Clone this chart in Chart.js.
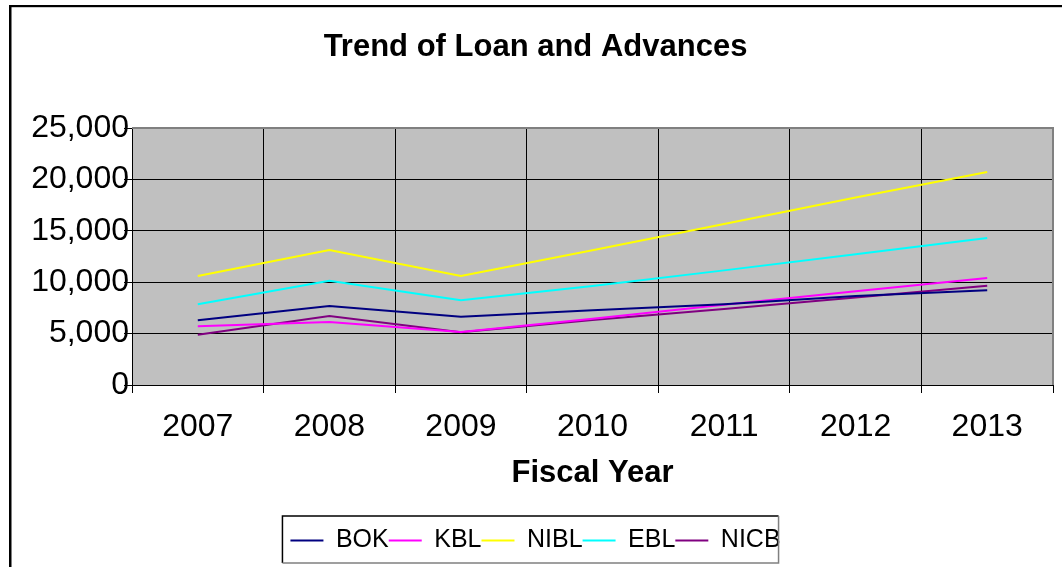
<!DOCTYPE html>
<html><head><meta charset="utf-8">
<script src="https://cdn.jsdelivr.net/npm/chart.js@4.4.1/dist/chart.umd.min.js"></script>
<style>html,body{margin:0;padding:0;background:#fff;}#wrap{width:1062px;height:567px;position:relative;}</style>
</head><body><div id="wrap"><canvas id="c" width="1062" height="567"></canvas></div>
<script>
const years = ['2007','2008','2009','2010','2011','2012','2013'];
const bok  = [6290, 7690, 6640, 7260, 7850, 8660, 9210];
const kbl  = [5710, 6130, 5160, 6450, 7810, 9120, 10410];
const nibl = [10600, 13130, 10600, 13110, 15660, 18240, 20720];
const ebl  = [7850, 10150, 8240, 9630, 11150, 12710, 14300];
const nicb = [4890, 6710, 5140, 6320, 7400, 8510, 9660];
const seriesNames = ['BOK','KBL','NIBL','EBL','NICB'];
const seriesColors = ['#000080','#FF00FF','#FFFF00','#00FFFF','#800080'];
const seriesValues = [bok, kbl, nibl, ebl, nicb];
const yMin = 0, yMax = 25000, yStep = 5000;

const FONT = '"Liberation Sans", Arial, sans-serif';

const decor = {
  id: 'decor',
  beforeDraw(chart) {
    const {ctx, chartArea: a} = chart;
    ctx.save();
    ctx.fillStyle = '#fff';
    ctx.fillRect(0, 0, chart.width, chart.height);
    ctx.fillStyle = '#000';
    ctx.fillRect(9, 5, 2.5, chart.height);
    ctx.fillRect(9, 5, chart.width, 2.2);
    ctx.fillStyle = '#C0C0C0';
    ctx.fillRect(a.left, a.top, a.right - a.left, a.bottom - a.top);
    ctx.restore();
  },
  afterDraw(chart) {
    const {ctx, chartArea: a, legend} = chart;
    ctx.save();
    ctx.strokeStyle = '#808080';
    ctx.lineWidth = 2;
    ctx.beginPath();
    ctx.moveTo(a.left, a.top);
    ctx.lineTo(a.right, a.top);
    ctx.lineTo(a.right, a.bottom);
    ctx.stroke();
    const hb = legend.legendHitBoxes;
    if (hb && hb.length) {
      const l = Math.min(...hb.map(h => h.left)) - 8;
      const r = Math.max(...hb.map(h => h.left + h.width)) - 2;
      const cy = hb[0].top + hb[0].height / 2;
      const t = cy - 24.5, b = cy + 22.5;
      ctx.lineWidth = 1.5;
      ctx.strokeStyle = '#000';
      ctx.beginPath();
      ctx.moveTo(l, b); ctx.lineTo(l, t); ctx.lineTo(r, t);
      ctx.stroke();
      ctx.strokeStyle = '#808080';
      ctx.beginPath();
      ctx.moveTo(r, t); ctx.lineTo(r, b); ctx.lineTo(l, b);
      ctx.stroke();
    }
    ctx.restore();
  }
};

new Chart(document.getElementById('c'), {
  type: 'line',
  data: {
    labels: years,
    datasets: seriesNames.map((n, i) => ({
      label: n,
      data: seriesValues[i],
      borderColor: seriesColors[i],
      backgroundColor: seriesColors[i],
      borderWidth: 2,
      pointRadius: 0,
      tension: 0,
      fill: false
    }))
  },
  options: {
    responsive: false,
    devicePixelRatio: 1,
    animation: false,
    layout: {padding: {left: 18, right: 9, top: 0, bottom: 4}},
    scales: {
      x: {
        offset: true,
        grid: {offset: true, color: '#000', lineWidth: 1, tickLength: 8, drawTicks: true},
        border: {color: '#000', width: 1},
        ticks: {color: '#000', font: {family: FONT, size: 32}, padding: 15, maxRotation: 0, autoSkip: false},
        title: {display: true, text: 'Fiscal Year', color: '#000', font: {family: FONT, size: 31, weight: 'bold'}, padding: {top: 0, bottom: 36}},
        afterFit(s) { s.height = 143; }
      },
      y: {
        min: yMin, max: yMax,
        grid: {color: '#000', lineWidth: 1, tickLength: 8},
        border: {color: '#000', width: 1},
        ticks: {stepSize: yStep, color: '#000', font: {family: FONT, size: 32}, padding: -5,
          callback: v => v.toLocaleString('en-US')},
        afterFit(s) { s.width = 114; }
      }
    },
    plugins: {
      title: {display: true, text: 'Trend of Loan and Advances', color: '#000',
        font: {family: FONT, size: 31, weight: 'bold'}, padding: {top: 28.4, bottom: 62.4}},
      legend: {
        position: 'bottom',
        labels: {color: '#000', font: {family: FONT, size: 25}, usePointStyle: true, pointStyle: 'line',
          pointStyleWidth: 33, boxHeight: 25, padding: 0}
      },
      tooltip: {enabled: false}
    }
  },
  plugins: [decor]
});
</script></body></html>
